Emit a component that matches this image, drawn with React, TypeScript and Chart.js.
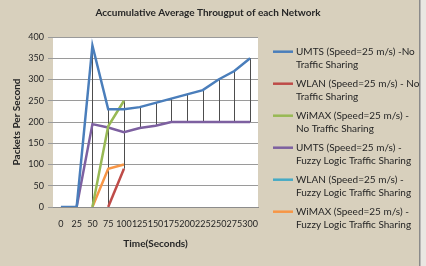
import { useEffect, useRef } from 'react';
import { Chart, registerables } from 'chart.js';

Chart.register(...registerables);

const chartTitle = 'Accumulative Average Througput of each Network';
const xTitle = 'Time(Seconds)';
const yTitle = 'Packets Per Second';

const categories = ['0', '25', '50', '75', '100', '125', '150', '175', '200', '225', '250', '275', '300'];

const umtsNoSharing = [0, 0, 380, 230, 230, 235, 245, 255, 265, 275, 300, 320, 350];
const wlanNoSharing = [null, null, null, 0, 90, null, null, null, null, null, null, null, null];
const wimaxNoSharing = [null, null, 0, 190, 250, null, null, null, null, null, null, null, null];
const umtsFuzzy = [null, 0, 195, 187, 176, 186, 191, 200, 200, 200, 200, 200, 200];
const wlanFuzzy = [null, null, null, null, null, null, null, null, null, null, null, null, null];
const wimaxFuzzy = [null, null, 0, 90, 100, null, null, null, null, null, null, null, null];

const seriesLabels = [
  'UMTS (Speed=25 m/s) -No Traffic Sharing',
  'WLAN (Speed=25 m/s) - No Traffic Sharing',
  'WiMAX (Speed=25 m/s) - No Traffic Sharing',
  'UMTS (Speed=25 m/s) - Fuzzy Logic Traffic Sharing',
  'WLAN (Speed=25 m/s) - Fuzzy Logic Traffic Sharing',
  'WiMAX (Speed=25 m/s) - Fuzzy Logic Traffic Sharing',
];
const legendLines = [
  ['UMTS (Speed=25 m/s) -No', 'Traffic Sharing'],
  ['WLAN (Speed=25 m/s) - No', 'Traffic Sharing'],
  ['WiMAX (Speed=25 m/s) -', 'No Traffic Sharing'],
  ['UMTS (Speed=25 m/s) -', 'Fuzzy Logic Traffic Sharing'],
  ['WLAN (Speed=25 m/s) -', 'Fuzzy Logic Traffic Sharing'],
  ['WiMAX (Speed=25 m/s) -', 'Fuzzy Logic Traffic Sharing'],
];
const seriesValues = [umtsNoSharing, wlanNoSharing, wimaxNoSharing, umtsFuzzy, wlanFuzzy, wimaxFuzzy];
const seriesColors = ['#4a7ebb', '#be4b48', '#98b954', '#7d60a0', '#46aac5', '#f79646'];

const BG = '#d8d0bd';
const TEXT = '#262626';
const FONT = 'Lato';

export default function App() {
  const ref = useRef<HTMLCanvasElement>(null);

  useEffect(() => {
    document.body.style.margin = '0';
    const canvas = ref.current;
    if (!canvas) return;

    const bgPlugin = {
      id: 'bgPlugin',
      beforeDraw(chart: any) {
        const c = chart.ctx;
        c.save();
        c.fillStyle = BG;
        c.fillRect(0, 0, chart.width, chart.height);
        c.fillStyle = '#e9e7e2';
        c.fillRect(420, 0, chart.width - 420, chart.height);
        c.fillStyle = '#8a8a8a';
        c.fillRect(419, 0, 1.5, chart.height);
        const a = chart.chartArea;
        c.fillStyle = '#ffffff';
        c.fillRect(a.left, a.top, a.right - a.left, a.bottom - a.top);
        c.font = `bold 10px ${FONT}`;
        c.fillStyle = TEXT;
        c.textAlign = 'center';
        c.textBaseline = 'middle';
        c.fillText(chartTitle, 208, 13);
        c.restore();
      },
    };

    const hiLoPlugin = {
      id: 'hiLoPlugin',
      beforeDatasetsDraw(chart: any) {
        const c = chart.ctx;
        const xs = chart.scales.x;
        const ys = chart.scales.y;
        c.save();
        c.strokeStyle = '#4d4d4d';
        c.lineWidth = 1;
        categories.forEach((_, i) => {
          const vals = seriesValues.map((s) => s[i]).filter((v) => v !== null && v !== undefined) as number[];
          if (vals.length < 2) return;
          const hi = Math.max(...vals);
          const lo = Math.min(...vals);
          if (hi <= lo) return;
          const x = Math.round(xs.getPixelForValue(i)) + 0.5;
          c.beginPath();
          c.moveTo(x, ys.getPixelForValue(hi));
          c.lineTo(x, ys.getPixelForValue(lo));
          c.stroke();
        });
        c.restore();
      },
    };

    const legendPlugin = {
      id: 'legendPlugin',
      afterDraw(chart: any) {
        const c = chart.ctx;
        c.save();
        c.font = `10px ${FONT}`;
        c.fillStyle = TEXT;
        c.textAlign = 'left';
        c.textBaseline = 'middle';
        legendLines.forEach((lines, i) => {
          const y = 51.7 + 32 * i;
          c.strokeStyle = seriesColors[i];
          c.lineWidth = 2.5;
          c.beginPath();
          c.moveTo(273, y);
          c.lineTo(293, y);
          c.stroke();
          lines.forEach((t, j) => c.fillText(t, 296, y + j * 13.5));
        });
        c.restore();
      },
    };

    const chart = new Chart(canvas, {
      type: 'line',
      data: {
        labels: categories,
        datasets: seriesValues.map((vals, i) => ({
          label: seriesLabels[i],
          data: vals,
          borderColor: seriesColors[i],
          backgroundColor: seriesColors[i],
          borderWidth: 2.5,
          pointRadius: 0,
          tension: 0,
          spanGaps: false,
        })),
      },
      options: {
        responsive: false,
        animation: false,
        layout: { padding: { left: 0, right: 168, top: 37, bottom: 0 } },
        plugins: {
          legend: { display: false },
          title: { display: false },
          tooltip: { enabled: false },
        },
        scales: {
          x: {
            type: 'category',
            offset: true,
            grid: { display: false, drawTicks: false },
            border: { display: true, color: '#8c8c8c' },
            ticks: {
              autoSkip: false,
              maxRotation: 0,
              minRotation: 0,
              padding: 12,
              color: TEXT,
              font: { family: FONT, size: 9 },
            },
            title: {
              display: true,
              text: xTitle,
              color: TEXT,
              font: { family: FONT, size: 10, weight: 'bold' },
              padding: { top: 0, bottom: 16 },
            },
            afterFit(s: any) {
              s.height = 59;
            },
          },
          y: {
            min: 0,
            max: 400,
            ticks: {
              stepSize: 50,
              padding: 4,
              color: TEXT,
              font: { family: FONT, size: 9 },
            },
            grid: { color: '#9a9a9a', tickLength: 5, lineWidth: 1 },
            border: { display: false },
            title: {
              display: true,
              text: yTitle,
              color: TEXT,
              font: { family: FONT, size: 10, weight: 'bold' },
              padding: { top: 11, bottom: 0 },
            },
            afterFit(s: any) {
              s.width = 53;
            },
          },
        },
      },
      plugins: [bgPlugin, hiLoPlugin, legendPlugin],
    });
    return () => chart.destroy();
  }, []);

  return (
    <div style={{ width: 426, height: 266 }}>
      <canvas ref={ref} width={426} height={266} style={{ width: 426, height: 266, display: 'block' }} />
    </div>
  );
}
